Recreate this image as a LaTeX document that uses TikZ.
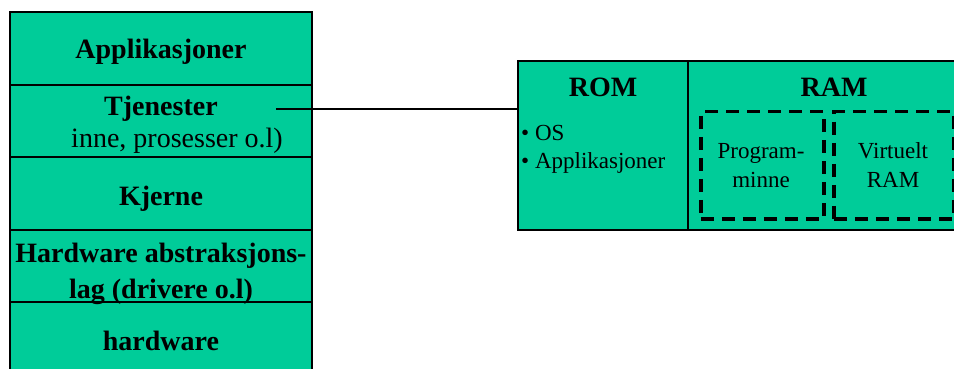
\documentclass[tikz,border=0pt]{standalone}
\usepackage{fontspec}
\setmainfont{Liberation Serif}
\definecolor{layer}{HTML}{00CC99}
\begin{document}
\begin{tikzpicture}[x=1pt,y=-1pt,
  layerbox/.style={draw=black, line width=1.3pt, fill=layer, rectangle,
    inner sep=0pt, outer sep=0pt, anchor=north west},
  region/.style={draw=black, line width=3.5pt, dash pattern=on 13pt off 8pt,
    rectangle, inner sep=0pt, anchor=north west},
  head/.style={font=\fontsize{28}{32}\selectfont\bfseries, anchor=base, inner sep=0pt},
  body/.style={font=\fontsize{28}{32}\selectfont, anchor=base, inner sep=0pt},
  small/.style={font=\fontsize{23}{28}\selectfont, anchor=base, inner sep=0pt},
  link/.style={draw=black, line width=1.3pt}]
\useasboundingbox (0,0) rectangle (954,369);
\clip (0,0) rectangle (954,369);

% layered software stack
\node[layerbox, minimum width=302pt, minimum height=73pt] (app)  at (10,12)  {};
\node[layerbox, minimum width=302pt, minimum height=72pt] (svc)  at (10,85)  {};
\node[layerbox, minimum width=302pt, minimum height=73pt] (kern) at (10,157) {};
\node[layerbox, minimum width=302pt, minimum height=72pt] (hal)  at (10,230) {};
\node[layerbox, minimum width=302pt, minimum height=90pt] (hw)   at (10,302) {};

\node[head] (tapp)  at (161,59)  {Applikasjoner};
\node[head] (tsvc)  at (161,115) {Tjenester};
\node[body] (tsvc2) at (177,147) {inne, prosesser o.l)};
\node[head] (tkern) at (161,205) {Kjerne};
\node[head] (thal1) at (161,262) {Hardware abstraksjons-};
\node[head] (thal2) at (161,298) {lag (drivere o.l)};
\node[head] (thw)   at (161,350) {hardware};

% memory block
\node[layerbox, minimum width=170pt, minimum height=169pt] (rom) at (518,61) {};
\node[layerbox, minimum width=300pt, minimum height=169pt] (ram) at (688,61) {};
\node[region, minimum width=123pt, minimum height=107pt] (prog) at (699,110) {};
\node[region, minimum width=120pt, minimum height=107pt] (virt) at (832,110) {};

\node[head] (trom) at (603,96) {ROM};
\node[head] (tram) at (834,96) {RAM};
\node[small, anchor=base west] (os)   at (521,140) {\textbullet\ OS};
\node[small, anchor=base west] (apps) at (521,168) {\textbullet\ Applikasjoner};
\node[small] (tprog1) at (761,158) {Program-};
\node[small] (tprog2) at (761,187) {minne};
\node[small] (tvirt1) at (893,158) {Virtuelt};
\node[small] (tvirt2) at (893,187) {RAM};

% services layer linked to memory
\coordinate (tap) at (276,109);
\draw[link] (tap) -- (tap -| rom.west);
\end{tikzpicture}
\end{document}
